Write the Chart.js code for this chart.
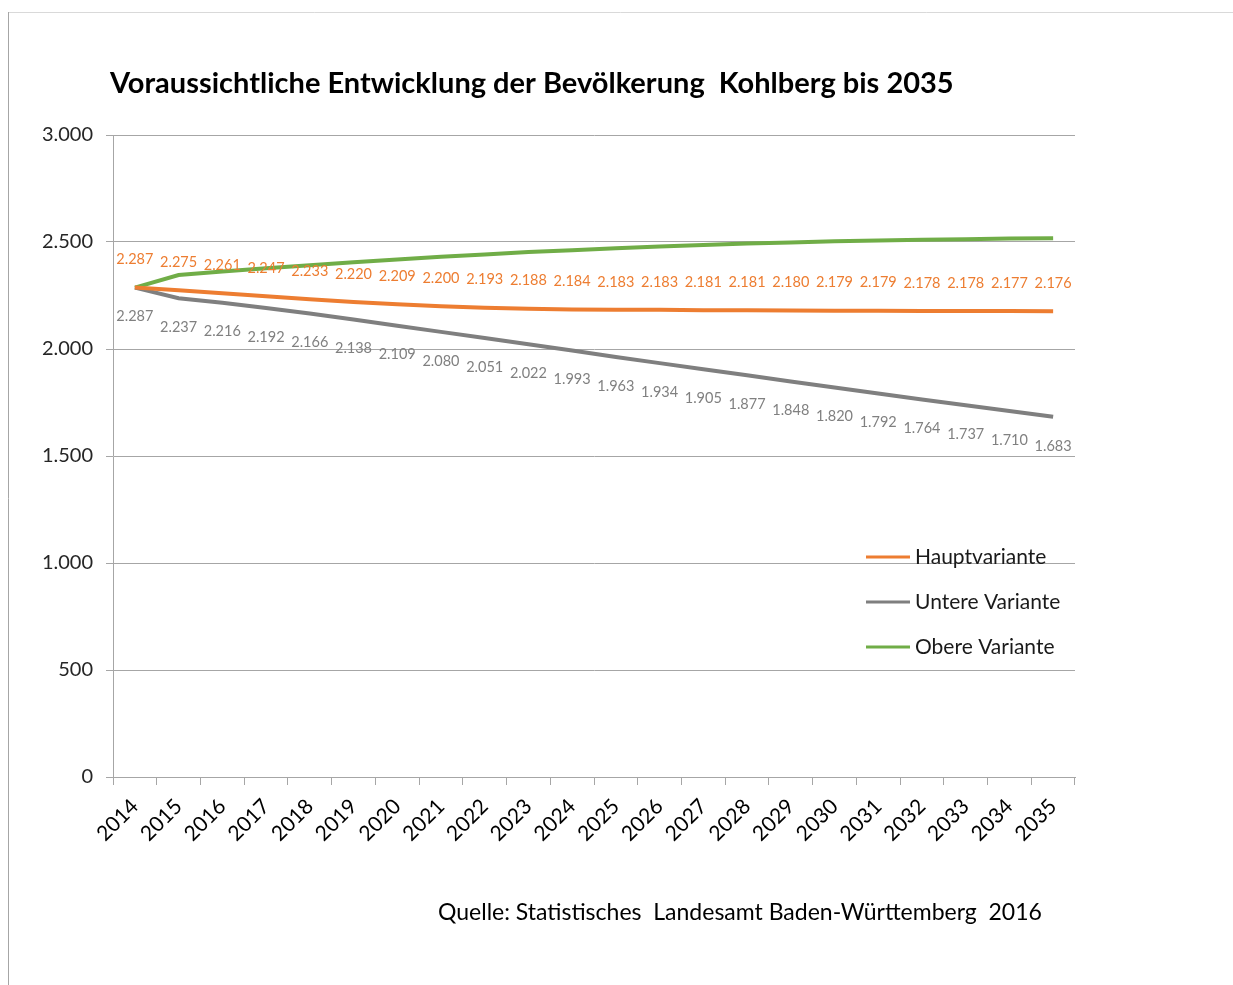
<!DOCTYPE html>
<html>
<head>
<meta charset="utf-8">
<script src="https://cdn.jsdelivr.net/npm/chart.js@4/dist/chart.umd.min.js"></script>
<style>
  html, body { margin: 0; padding: 0; background: #fff; }
  #wrap { width: 1233px; height: 985px; }
</style>
</head>
<body>
<div id="wrap"><canvas id="myChart" width="1233" height="985"></canvas></div>
<script>
const JAHRE = ['2014', '2015', '2016', '2017', '2018', '2019', '2020', '2021', '2022', '2023', '2024',
    '2025', '2026', '2027', '2028', '2029', '2030', '2031', '2032', '2033', '2034', '2035'];
const hauptvariante = [2287, 2275, 2261, 2247, 2233, 2220, 2209, 2200, 2193, 2188, 2184,
    2183, 2183, 2181, 2181, 2180, 2179, 2179, 2178, 2178, 2177, 2176];
const untereVariante = [2287, 2237, 2216, 2192, 2166, 2138, 2109, 2080, 2051, 2022, 1993,
    1963, 1934, 1905, 1877, 1848, 1820, 1792, 1764, 1737, 1710, 1683];
// keine Beschriftung im Original
const obereVariante = [2287, 2346, 2362, 2377, 2391, 2405, 2418, 2431, 2442, 2453, 2462,
    2471, 2479, 2486, 2493, 2498, 2503, 2507, 2510, 2513, 2516, 2518];
const Y_TICKS = [0, 500, 1000, 1500, 2000, 2500, 3000];

const TITEL = 'Voraussichtliche Entwicklung der Bevölkerung  Kohlberg bis 2035';
const QUELLE = 'Quelle: Statistisches  Landesamt Baden-Württemberg  2016';
const FONT = 'Lato, "Open Sans", sans-serif';

function formatDE(v) {
    return String(v).replace(/\B(?=(\d{3})+(?!\d))/g, '.');
}

var ctx = document.getElementById('myChart').getContext('2d');

// Rahmen, Titel, Quelle, Legende und Werte
const extras = {
    id: 'extras',
    beforeDraw(chart) {
        const c = chart.ctx;
        c.save();
        c.fillStyle = '#fff';
        c.fillRect(0, 0, chart.width, chart.height);
        c.strokeStyle = '#d9d9d9';
        c.lineWidth = 1;
        c.beginPath();
        c.moveTo(8, 12.5);
        c.lineTo(chart.width, 12.5);
        c.stroke();
        c.strokeStyle = '#a6a6a6';
        c.beginPath();
        c.moveTo(8.5, 12);
        c.lineTo(8.5, chart.height);
        c.stroke();
        c.restore();
    },
    afterDatasetsDraw(chart) {
        const c = chart.ctx;
        const area = chart.chartArea;
        c.save();
        // Titel
        c.fillStyle = '#000';
        c.font = 'bold 29px ' + FONT;
        c.textBaseline = 'middle';
        c.textAlign = 'left';
        c.fillText(TITEL, area.left - 3, 84);
        // Quelle
        c.font = '23px ' + FONT;
        c.fillText(QUELLE, 438, 913);

        // Datenbeschriftungen
        c.font = '14.5px ' + FONT;
        c.textAlign = 'center';
        const cfg = [{ idx: 0, dy: -28, color: '#ED7D31' }, { idx: 1, dy: 29, color: '#808080' }];
        cfg.forEach(function(l) {
            const meta = chart.getDatasetMeta(l.idx);
            const vals = chart.data.datasets[l.idx].data;
            c.fillStyle = l.color;
            meta.data.forEach(function(pt, i) {
                c.fillText(formatDE(vals[i]), pt.x, pt.y + l.dy);
            });
        });

        // Legende
        c.font = '21px ' + FONT;
        c.textAlign = 'left';
        const lx = area.right - 209;
        chart.data.datasets.forEach(function(ds, i) {
            const y = 557 + i * 45;
            c.strokeStyle = ds.borderColor;
            c.lineWidth = 3;
            c.beginPath();
            c.moveTo(lx, y);
            c.lineTo(lx + 44, y);
            c.stroke();
            c.fillStyle = '#1a1a1a';
            c.fillText(ds.label, lx + 49, y);
        });
        c.restore();
    }
};

var myChart = new Chart(ctx, {
    type: 'line',
    data: {
        labels: JAHRE,
        datasets: [{
            label: 'Hauptvariante',
            data: hauptvariante,
            borderColor: '#ED7D31',
            backgroundColor: '#ED7D31',
            borderWidth: 4,
            pointRadius: 0,
            fill: false
        }, {
            label: 'Untere Variante',
            data: untereVariante,
            borderColor: '#7F7F7F',
            backgroundColor: '#7F7F7F',
            borderWidth: 4,
            pointRadius: 0,
            fill: false
        }, {
            label: 'Obere Variante',
            data: obereVariante,
            borderColor: '#70AD47',
            backgroundColor: '#70AD47',
            borderWidth: 4,
            pointRadius: 0,
            fill: false
        }]
    },
    options: {
        responsive: false,
        animation: false,
        layout: { padding: { left: 33, right: 158, top: 135, bottom: 108 } },
        plugins: {
            legend: { display: false },
            title: { display: false },
            tooltip: { enabled: false }
        },
        scales: {
            x: {
                offset: true,
                afterFit: function(s) { s.height = 100; },
                grid: {
                    offset: true,
                    drawOnChartArea: false,
                    tickLength: 8,
                    color: '#a6a6a6'
                },
                border: { color: '#a6a6a6' },
                ticks: {
                    minRotation: 45,
                    maxRotation: 45,
                    autoSkip: false,
                    padding: 9,
                    color: '#000',
                    font: { family: FONT, size: 21 }
                }
            },
            y: {
                min: 0,
                max: 3000,
                afterFit: function(s) { s.width = 80; },
                afterBuildTicks: function(s) { s.ticks = Y_TICKS.map(v => ({ value: v })); },
                grid: {
                    color: '#a6a6a6',
                    tickLength: 7
                },
                border: { color: '#a6a6a6' },
                ticks: {
                    padding: 13,
                    color: '#262626',
                    font: { family: FONT, size: 20 },
                    callback: function(v) { return formatDE(v); }
                }
            }
        }
    },
    plugins: [extras]
});
</script>
</body>
</html>
